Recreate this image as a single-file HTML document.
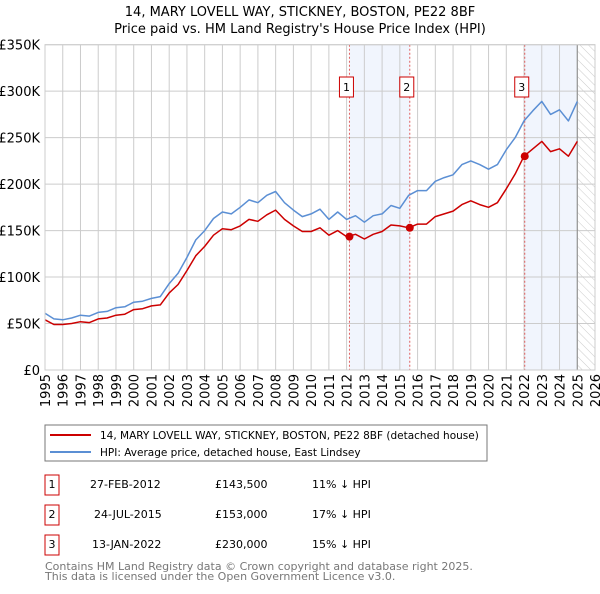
<!DOCTYPE html>
<html><head><meta charset="utf-8"><style>
body{margin:0;background:#fff;font-family:"DejaVu Sans","Liberation Sans",sans-serif;}
svg text{font-family:"DejaVu Sans","Liberation Sans",sans-serif;}
</style></head><body>
<svg id="c" width="600" height="590" xmlns="http://www.w3.org/2000/svg">
<defs><pattern id="hatch" width="6" height="6" patternUnits="userSpaceOnUse" patternTransform="rotate(-45)"><line x1="0" y1="0" x2="0" y2="6" stroke="#ccc" stroke-width="1"/></pattern></defs>
<text x="300" y="16" text-anchor="middle" font-size="13">14, MARY LOVELL WAY, STICKNEY, BOSTON, PE22 8BF</text>
<text x="300" y="33" text-anchor="middle" font-size="13">Price paid vs. HM Land Registry's House Price Index (HPI)</text>
<g id="plot"></g>
<rect x="45" y="425" width="442" height="36" fill="#fff" stroke="#777"/>
<line x1="50" y1="435" x2="91" y2="435" stroke="#cc0000" stroke-width="2"/>
<text x="100" y="439" font-size="10.5">14, MARY LOVELL WAY, STICKNEY, BOSTON, PE22 8BF (detached house)</text>
<line x1="50" y1="452" x2="91" y2="452" stroke="#5b8fd4" stroke-width="2"/>
<text x="100" y="456" font-size="10.5">HPI: Average price, detached house, East Lindsey</text>
<g font-size="11">
<rect x="45" y="475" width="14" height="20" fill="#fff" stroke="#cc0000"/><text x="52" y="488" text-anchor="middle">1</text>
<text x="90" y="488">27-FEB-2012</text><text x="215" y="488">£143,500</text><text x="312" y="488">11% ↓ HPI</text>
<rect x="45" y="505" width="14" height="20" fill="#fff" stroke="#cc0000"/><text x="52" y="518" text-anchor="middle">2</text>
<text x="94" y="518">24-JUL-2015</text><text x="215" y="518">£153,000</text><text x="312" y="518">17% ↓ HPI</text>
<rect x="45" y="535" width="14" height="20" fill="#fff" stroke="#cc0000"/><text x="52" y="548" text-anchor="middle">3</text>
<text x="92" y="548">13-JAN-2022</text><text x="215" y="548">£230,000</text><text x="312" y="548">15% ↓ HPI</text>
</g>
<text x="45" y="570" font-size="11" fill="#777">Contains HM Land Registry data © Crown copyright and database right 2025.</text>
<text x="45" y="580" font-size="11" fill="#777">This data is licensed under the Open Government Licence v3.0.</text>
</svg>
<script>
const hpiStart = 1995, hpiStep = 0.5;
const hpiValues = [61,55,54,56,59,58,62,63,67,68,73,74,77,79,93,104,121,140,150,163,170,168,175,183,180,188,192,180,172,165,168,173,162,170,162,166,159,166,168,177,174,188,193,193,203,207,210,221,225,221,216,221,237,250,268,279,289,275,280,268,289];
const priceValues = [54,49,49,50,52,51,55,56,59,60,65,66,69,70,83,92,107,123,133,145,152,151,155,162,160,167,172,162,155,149,149,153,145,150,143.5,146,141,146,149,156,155,153,157,157,165,168,171,178,182,178,175,180,195,211,230,238,246,235,238,230,246];
const saleYears = [2012.16, 2015.56, 2022.04];
const salePrices = [143.5, 153, 230];
const saleLabels = ["1","2","3"];
const yTicks = [0,50,100,150,200,250,300,350];
const yTickLabels = ["£0","£50K","£100K","£150K","£200K","£250K","£300K","£350K"];
const xTicks = [1995,1996,1997,1998,1999,2000,2001,2002,2003,2004,2005,2006,2007,2008,2009,2010,2011,2012,2013,2014,2015,2016,2017,2018,2019,2020,2021,2022,2023,2024,2025,2026];

const X0=45,X1=595,Y0=370,Y1=44.7;
const xs=y=>X0+(y-1995)/(2026-1995)*(X1-X0);
const ys=v=>Y0-v/350*(Y0-Y1);
const NS="http://www.w3.org/2000/svg";
const g=document.getElementById('plot');
function mk(t,a){const e=document.createElementNS(NS,t);for(const k in a)e.setAttribute(k,a[k]);g.appendChild(e);return e;}

let e;
e=mk('rect',{x:xs(saleYears[0]),y:Y1,width:xs(saleYears[1])-xs(saleYears[0]),height:Y0-Y1,fill:'#f1f5fd'});


e=mk('rect',{x:xs(saleYears[2]),y:Y1,width:xs(2025)-xs(saleYears[2]),height:Y0-Y1,fill:'#f1f5fd'});


e=mk('rect',{x:xs(2025),y:Y1,width:X1-xs(2025),height:Y0-Y1,fill:'url(#hatch)'});



yTicks.forEach((v,i)=>{
  e=mk('line',{x1:X0,x2:X1,y1:ys(v),y2:ys(v),stroke:'#ccc','stroke-width':1});
  
  
  e=mk('text',{x:40,y:ys(v)+5,'text-anchor':'end','font-size':13});
  e.textContent=yTickLabels[i];
  
  
});
xTicks.forEach(y=>{
  e=mk('line',{x1:xs(y),x2:xs(y),y1:Y1,y2:Y0,stroke:'#ccc','stroke-width':1});
  
  
  e=mk('text',{x:0,y:0,'text-anchor':'end','font-size':13,transform:`translate(${xs(y)+5},374) rotate(-90)`});
  e.textContent=y;
  
  
});
e=mk('line',{x1:xs(2025),x2:xs(2025),y1:Y1,y2:Y0,stroke:'#888','stroke-width':1});



saleYears.forEach((y,i)=>{
  e=mk('line',{x1:xs(y),x2:xs(y),y1:Y1,y2:Y0,stroke:'#e06060','stroke-width':1,'stroke-dasharray':'2,2'});
  
  
});

function pts(arr){return arr.map((v,i)=>`${xs(hpiStart+i*hpiStep).toFixed(1)},${ys(v).toFixed(1)}`).join(' ');}
e=mk('polyline',{points:pts(hpiValues),fill:'none',stroke:'#5b8fd4','stroke-width':1.5,'stroke-linejoin':'round'});


e=mk('polyline',{points:pts(priceValues),fill:'none',stroke:'#cc0000','stroke-width':1.5,'stroke-linejoin':'round'});



saleYears.forEach((y,i)=>{
  e=mk('circle',{cx:xs(y),cy:ys(salePrices[i]),r:4,fill:'#cc0000'});
  
  
  e=mk('rect',{x:xs(y)-10,y:77,width:14,height:20,fill:'#fff',stroke:'#cc0000'});
  
  
  e=mk('text',{x:xs(y)-3,y:91,'text-anchor':'middle','font-size':11});
  e.textContent=saleLabels[i];
  
  
});
e=mk('rect',{x:X0,y:Y1,width:X1-X0,height:Y0-Y1,fill:'none',stroke:'#ccc'});


</script>
</body></html>
